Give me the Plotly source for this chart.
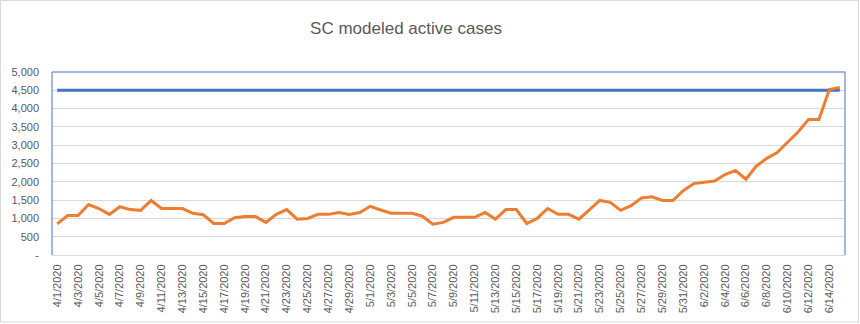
import pandas as pd
import plotly.graph_objects as go

dates = [f"{d.month}/{d.day}/{d.year}" for d in pd.date_range("2020-04-01", "2020-06-15")]

active_cases = [
    850, 1080, 1080, 1380, 1270, 1110, 1320, 1240, 1220, 1490,
    1270, 1270, 1270, 1140, 1100, 860, 860, 1020, 1050, 1050,
    890, 1110, 1240, 980, 1000, 1110, 1110, 1160, 1110, 1160,
    1330, 1230, 1140, 1140, 1140, 1060, 840, 890, 1030, 1030,
    1030, 1160, 980, 1240, 1240, 860, 1000, 1270, 1110, 1110,
    980, 1230, 1490, 1440, 1220, 1350, 1560, 1590, 1490, 1490,
    1760, 1950, 1980, 2020, 2200, 2310, 2070, 2430, 2640, 2800,
    3080, 3360, 3700, 3700, 4520, 4580,
]
capacity = [4500] * len(dates)

y_tickvals = [0, 500, 1000, 1500, 2000, 2500, 3000, 3500, 4000, 4500, 5000]
y_ticktext = ["-", "500", "1,000", "1,500", "2,000", "2,500", "3,000", "3,500", "4,000", "4,500", "5,000"]
x_tickvals = dates[::2]

fig = go.Figure()
fig.add_trace(go.Scatter(x=dates, y=capacity, mode="lines",
                         line=dict(color="#4472C4", width=3), name="Capacity"))
fig.add_trace(go.Scatter(x=dates, y=active_cases, mode="lines",
                         line=dict(color="#ED7D31", width=3), name="Active cases"))

font_family = "Liberation Sans, Arial, sans-serif"
fig.update_layout(
    width=860, height=324,
    margin=dict(l=52, r=15, t=72, b=69),
    paper_bgcolor="white", plot_bgcolor="white",
    showlegend=False,
    font=dict(family=font_family, color="#595959"),
    title=dict(text="SC modeled active cases", x=406/860, xref="container", xanchor="center",
               y=1 - 28/324, yref="container", yanchor="middle",
               font=dict(size=17, color="#595959", family=font_family)),
    xaxis=dict(type="category", tickmode="array", tickvals=x_tickvals, ticktext=x_tickvals,
               tickangle=-90, tickfont=dict(size=11, color="#595959"),
               showgrid=False, showline=True, linecolor="#d9d9d9", linewidth=1,
               ticks="", ticklabelstandoff=4, range=[-0.5, len(dates) - 0.5]),
    yaxis=dict(range=[0, 5000], tickmode="array", tickvals=y_tickvals, ticktext=y_ticktext,
               tickfont=dict(size=11, color="#595959"),
               showgrid=True, gridcolor="#d9d9d9", gridwidth=1, zeroline=False,
               showline=False, ticks="", ticklabelstandoff=12),
)

# plot-area outline (left, top, right) in blue
blue = "#4472C4"
fig.add_shape(type="line", xref="paper", yref="paper", x0=0, x1=0, y0=0, y1=1, line=dict(color=blue, width=1))
fig.add_shape(type="line", xref="paper", yref="paper", x0=0, x1=1, y0=1, y1=1, line=dict(color=blue, width=1))
fig.add_shape(type="line", xref="paper", yref="paper", x0=1, x1=1, y0=0, y1=1, line=dict(color=blue, width=1))

# outer chart border
pw, ph = 793, 183
fig.add_shape(type="rect", xref="paper", yref="paper",
              x0=(0.5 - 52) / pw, x1=(858.5 - 52) / pw,
              y0=(255 - 322) / ph, y1=(255 - 0.5) / ph,
              line=dict(color="#d9d9d9", width=1))

fig.write_html("out.html")
